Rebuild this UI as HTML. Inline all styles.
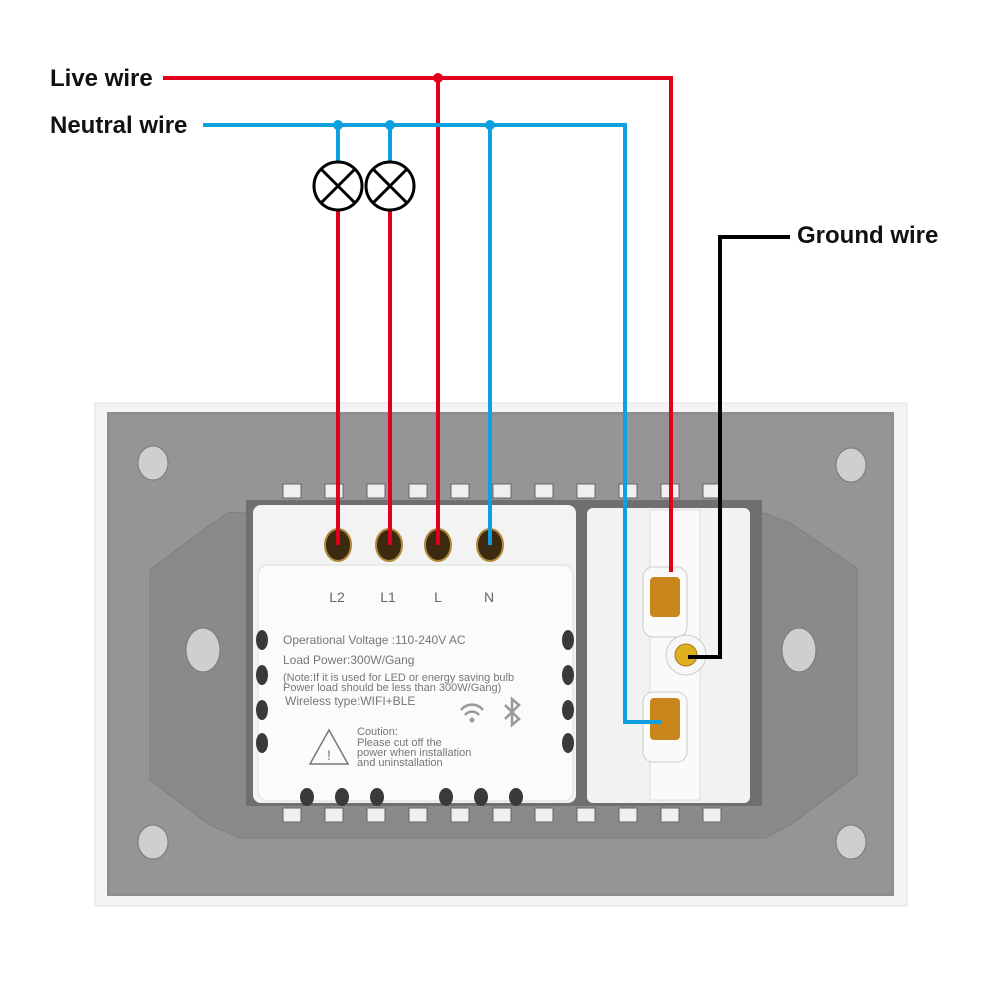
<!DOCTYPE html>
<html><head><meta charset="utf-8"><style>
html,body{margin:0;padding:0;background:#fff;}
svg{display:block;font-family:"Liberation Sans",sans-serif;}
</style></head><body>
<svg width="1000" height="1000" viewBox="0 0 1000 1000">
<rect x="95" y="403" width="812" height="503" fill="#f4f4f4" stroke="#e2e2e2"/>
<rect x="107" y="412" width="787" height="484" fill="#8e8e8e"/>
<rect x="110" y="415" width="781" height="478" fill="#959595"/>
<polygon points="230,512 245,513 764,513 790,523 857,568 857,775 790,825 765,838 240,838 210,825 150,780 150,570 210,525" fill="#8a8a8a" stroke="#7e7e7e"/>
<g fill="#cfcfcf" stroke="#777">
<ellipse cx="153" cy="463" rx="15" ry="17"/><ellipse cx="851" cy="465" rx="15" ry="17"/>
<ellipse cx="153" cy="842" rx="15" ry="17"/><ellipse cx="851" cy="842" rx="15" ry="17"/>
<ellipse cx="203" cy="650" rx="17" ry="22"/><ellipse cx="799" cy="650" rx="17" ry="22"/>
</g>
<g fill="#efefef" stroke="#666" stroke-width="1">
<rect x="283" y="484" width="18" height="14"/><rect x="325" y="484" width="18" height="14"/><rect x="367" y="484" width="18" height="14"/><rect x="409" y="484" width="18" height="14"/><rect x="451" y="484" width="18" height="14"/><rect x="493" y="484" width="18" height="14"/><rect x="535" y="484" width="18" height="14"/><rect x="577" y="484" width="18" height="14"/><rect x="619" y="484" width="18" height="14"/><rect x="661" y="484" width="18" height="14"/><rect x="703" y="484" width="18" height="14"/>
<rect x="283" y="808" width="18" height="14"/><rect x="325" y="808" width="18" height="14"/><rect x="367" y="808" width="18" height="14"/><rect x="409" y="808" width="18" height="14"/><rect x="451" y="808" width="18" height="14"/><rect x="493" y="808" width="18" height="14"/><rect x="535" y="808" width="18" height="14"/><rect x="577" y="808" width="18" height="14"/><rect x="619" y="808" width="18" height="14"/><rect x="661" y="808" width="18" height="14"/><rect x="703" y="808" width="18" height="14"/>
</g>
<rect x="246" y="500" width="516" height="306" fill="#6f6f6f"/>
<rect x="253" y="505" width="323" height="298" rx="8" fill="#f3f3f3"/>
<rect x="258" y="565" width="315" height="236" rx="10" fill="#fbfbfb" stroke="#ddd"/>
<g fill="#3a3a3a">
<ellipse cx="262" cy="640" rx="6" ry="10"/><ellipse cx="262" cy="675" rx="6" ry="10"/><ellipse cx="262" cy="710" rx="6" ry="10"/><ellipse cx="262" cy="743" rx="6" ry="10"/>
<ellipse cx="568" cy="640" rx="6" ry="10"/><ellipse cx="568" cy="675" rx="6" ry="10"/><ellipse cx="568" cy="710" rx="6" ry="10"/><ellipse cx="568" cy="743" rx="6" ry="10"/>
<ellipse cx="307" cy="797" rx="7" ry="9"/><ellipse cx="342" cy="797" rx="7" ry="9"/><ellipse cx="377" cy="797" rx="7" ry="9"/><ellipse cx="446" cy="797" rx="7" ry="9"/><ellipse cx="481" cy="797" rx="7" ry="9"/><ellipse cx="516" cy="797" rx="7" ry="9"/>
</g>
<g fill="#3b2a10" stroke="#b08a3a" stroke-width="2">
<ellipse cx="338" cy="545" rx="13" ry="16"/><ellipse cx="389" cy="545" rx="13" ry="16"/><ellipse cx="438" cy="545" rx="13" ry="16"/><ellipse cx="490" cy="545" rx="13" ry="16"/>
</g>
<g fill="#666" font-size="14" text-anchor="middle">
<text x="337" y="602">L2</text><text x="388" y="602">L1</text><text x="438" y="602">L</text><text x="489" y="602">N</text>
</g>
<g fill="#777" font-size="12">
<text x="283" y="644">Operational Voltage :110-240V AC</text>
<text x="283" y="664">Load Power:300W/Gang</text>
<text x="283" y="681" font-size="11">(Note:If it is used for LED or energy saving bulb</text>
<text x="283" y="691" font-size="11">Power load should be less than 300W/Gang)</text>
<text x="285" y="705" font-size="12">Wireless type:WIFI+BLE</text>
<text x="357" y="735" font-size="11">Coution:</text>
<text x="357" y="746" font-size="11">Please cut off the</text>
<text x="357" y="756" font-size="11">power when installation</text>
<text x="357" y="766" font-size="11">and uninstallation</text>
</g>
<polygon points="329,730 310,764 348,764" fill="none" stroke="#777" stroke-width="1.5"/>
<text x="329" y="760" font-size="14" fill="#777" text-anchor="middle">!</text>
<g fill="none" stroke="#999" stroke-width="2.5">
<path d="M461,710 a14,14 0 0 1 22,0"/><path d="M465,715 a9,9 0 0 1 14,0"/>
<path d="M505,705 l14,14 -7,6 v-26 l7,6 -14,14"/>
</g>
<circle cx="472" cy="720" r="2.5" fill="#999"/>
<rect x="587" y="508" width="163" height="295" rx="6" fill="#f2f2f2"/>
<rect x="650" y="510" width="50" height="290" fill="#fafafa" stroke="#ddd"/>
<rect x="643" y="567" width="44" height="70" rx="10" fill="#fafafa" stroke="#ccc"/>
<rect x="650" y="577" width="30" height="40" rx="4" fill="#c8861d"/>
<rect x="643" y="692" width="44" height="70" rx="10" fill="#fafafa" stroke="#ccc"/>
<rect x="650" y="698" width="30" height="42" rx="4" fill="#c8861d"/>
<circle cx="686" cy="655" r="20" fill="#f7f7f7" stroke="#ccc"/>
<circle cx="686" cy="655" r="11" fill="#e0b020" stroke="#a87810"/>
<g fill="none" stroke-width="4">
<path d="M163,78 H671 V572" stroke="#e0001b"/>
<path d="M438,78 V545" stroke="#e0001b"/>
<path d="M338,210 V545 M390,210 V545" stroke="#e0001b"/>
<path d="M203,125 H625 V722 H662" stroke="#0ea0e0"/>
<path d="M338,125 V162 M390,125 V162 M490,125 V545" stroke="#0ea0e0"/>
<path d="M790,237 H720 V657 H688" stroke="#000"/>
</g>
<circle cx="438" cy="78" r="5" fill="#e0001b"/>
<circle cx="338" cy="125" r="5" fill="#0ea0e0"/><circle cx="390" cy="125" r="5" fill="#0ea0e0"/><circle cx="490" cy="125" r="5" fill="#0ea0e0"/>
<g stroke="#000" stroke-width="3" fill="#fff">
<circle cx="338" cy="186" r="24"/><circle cx="390" cy="186" r="24"/>
<path d="M321,169 L355,203 M355,169 L321,203 M373,169 L407,203 M407,169 L373,203"/>
</g>
<g font-size="24" font-weight="bold" fill="#111">
<text x="50" y="86">Live wire</text>
<text x="50" y="133">Neutral wire</text>
<text x="797" y="243">Ground wire</text>
</g>
</svg>
</body></html>
